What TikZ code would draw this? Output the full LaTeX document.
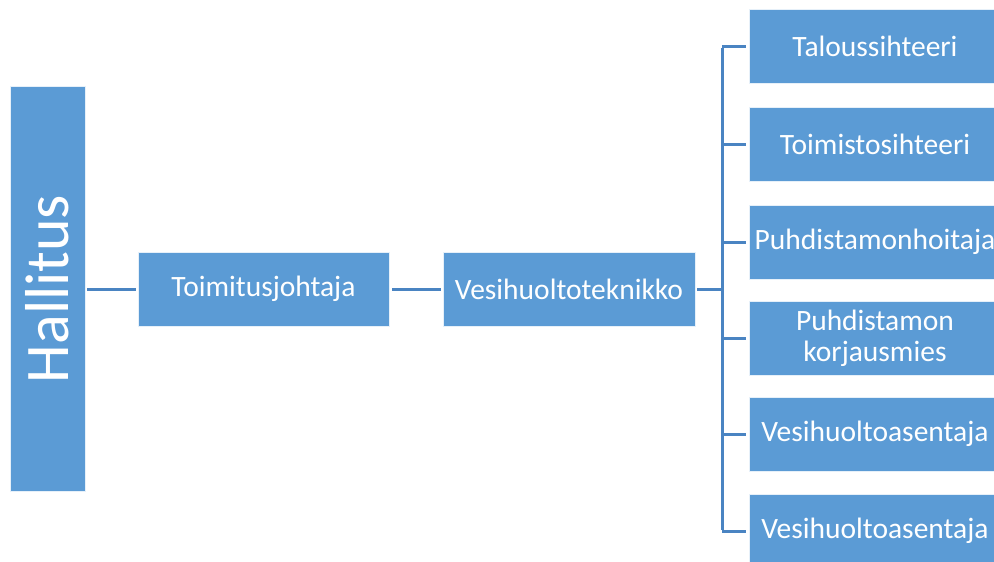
\documentclass[tikz,border=0pt]{standalone}
\usepackage{fontspec}
\setmainfont{Carlito}
\definecolor{boxblue}{HTML}{5B9BD5}
\definecolor{lineblue}{HTML}{4A84C2}
\begin{document}
\begin{tikzpicture}[x=1pt,y=-1pt,
  box/.style={rectangle, fill=boxblue, draw=white!85!boxblue, line width=0.8pt, text=white,
    minimum width=251pt, minimum height=74pt, inner sep=0pt, align=center,
    font=\fontsize{29.5}{31}\selectfont},
  conn/.style={draw=lineblue, line width=3pt}]
\useasboundingbox (0,0) rectangle (994,562);
\begin{scope}
\clip (0,0) rectangle (994,562);
\node[box, minimum width=75pt, minimum height=405pt] (h) at (47.5,289)
  {\rotatebox{90}{\fontsize{62}{70}\selectfont Hallitus}};
\node[box] (t) at (263.5,289) {Toimitusjohtaja};
\node[box, minimum width=252pt] (v) at (569,289) {Vesihuoltoteknikko};
\node[box] (r1) at (875,46) {Taloussihteeri};
\node[box] (r2) at (875,144) {Toimistosihteeri};
\node[box] (r3) at (875,242) {Puhdistamonhoitaja};
\node[box] (r4) at (875,338) {Puhdistamon\\korjausmies};
\node[box] (r5) at (875,434) {Vesihuoltoasentaja};
\node[box] (r6) at (875,531) {Vesihuoltoasentaja};
\end{scope}
\coordinate (bus) at (722,289);
\draw[conn, shorten <=2pt, shorten >=2pt] (h.east) -- (t.west);
\draw[conn, shorten <=3pt, shorten >=2pt] (t.east) -- (v.west);
\draw[conn, shorten <=2pt] (v.east) -- (bus);
\draw[conn] ([yshift=-1.5pt]bus |- r1.west) -- ([yshift=1.5pt]bus |- r6.west);
\foreach \r in {r1,r2,r3,r4,r5,r6}
  \draw[conn, shorten >=3pt] (bus |- \r.west) -- (\r.west);
\end{tikzpicture}
\end{document}
